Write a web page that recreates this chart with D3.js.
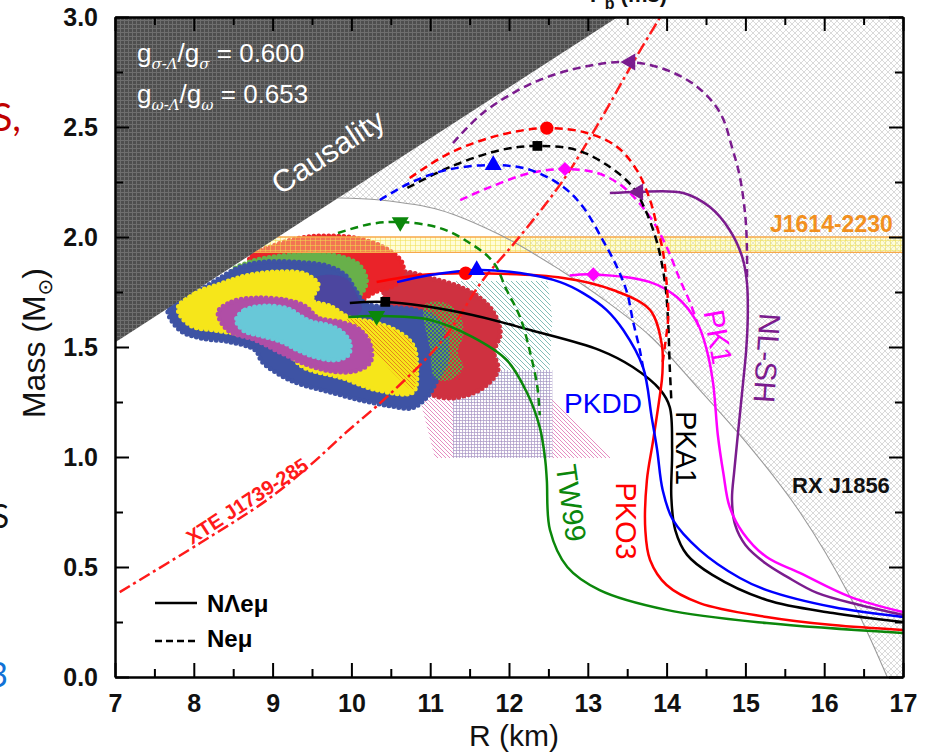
<!DOCTYPE html>
<html>
<head>
<meta charset="utf-8">
<script src="https://cdn.jsdelivr.net/npm/d3@7"></script>
<style>
  body { margin: 0; background: #fff; }
  svg { display: block; font-family: "Liberation Sans", Arial, sans-serif; }
</style>
</head>
<body>
<svg id="chart" width="945" height="754"></svg>
<script>
// ---------------- data: mass–radius relations (R in km, M in solar masses) ----------------
// N Λ e μ (hyperonic) branches, solid lines
const nlshHyp = [[13.28,2.20],[13.64,2.205],[14.21,2.20],[14.55,2.136],[14.80,2.032],[14.96,1.909],[15.02,1.791],[15.03,1.636],[15.01,1.486],[14.97,1.336],[14.91,1.123],[14.86,0.941],[14.83,0.805],[14.87,0.691],[15.00,0.600],[15.25,0.518],[15.53,0.455],[15.91,0.382],[16.45,0.327],[17.00,0.282]];
const pk1Hyp  = [[12.77,1.825],[13.07,1.830],[13.79,1.795],[14.13,1.727],[14.39,1.609],[14.51,1.486],[14.59,1.336],[14.65,1.100],[14.72,0.927],[14.80,0.773],[14.97,0.655],[15.27,0.545],[15.69,0.473],[16.33,0.364],[17.00,0.295]];
const pka1Hyp = [[9.98,1.700],[10.43,1.705],[11.42,1.655],[12.27,1.577],[13.15,1.486],[13.57,1.409],[13.92,1.305],[14.04,1.227],[14.07,1.032],[14.06,0.818],[14.11,0.668],[14.26,0.555],[14.58,0.464],[15.27,0.350],[16.11,0.291],[17.00,0.250]];
const pko3Hyp = [[10.32,1.795],[10.87,1.827],[11.45,1.835],[12.69,1.814],[13.32,1.759],[13.79,1.668],[13.94,1.509],[13.95,1.409],[13.94,1.350],[13.83,1.077],[13.75,0.895],[13.73,0.668],[13.79,0.532],[14.00,0.418],[14.42,0.336],[15.27,0.273],[16.11,0.236],[17.00,0.214]];
const pkddHyp = [[10.58,1.795],[11.00,1.827],[11.59,1.850],[12.14,1.836],[12.65,1.795],[12.94,1.745],[13.24,1.668],[13.45,1.577],[13.70,1.409],[13.81,1.182],[13.88,1.032],[13.95,0.850],[14.08,0.714],[14.42,0.577],[14.93,0.450],[15.27,0.395],[16.11,0.318],[17.00,0.273]];
const tw99Hyp = [[9.96,1.636],[10.32,1.641],[11.00,1.623],[11.54,1.545],[11.97,1.441],[12.23,1.291],[12.39,1.136],[12.46,0.986],[12.48,0.895],[12.52,0.668],[12.74,0.500],[13.15,0.395],[14.00,0.305],[15.27,0.245],[17.00,0.200]];

// N e μ (nucleonic) branches, dashed lines
const nlshNuc = [[11.29,2.427],[11.67,2.564],[12.30,2.700],[12.94,2.773],[13.54,2.795],[14.00,2.759],[14.39,2.682],[14.68,2.564],[14.84,2.395],[14.93,2.273],[15.00,2.091],[15.02,1.941],[15.02,1.805]];
const pk1Nuc  = [[11.38,2.168],[11.76,2.227],[12.27,2.291],[12.71,2.309],[13.12,2.291],[13.45,2.227],[13.79,2.091],[14.00,1.955],[14.17,1.805],[14.30,1.700],[14.42,1.577]];
const pka1Nuc = [[10.71,2.223],[11.25,2.318],[11.89,2.395],[12.36,2.414],[12.86,2.395],[13.28,2.318],[13.57,2.227],[13.73,2.123],[13.88,1.973],[13.98,1.791],[14.02,1.609],[14.04,1.409],[14.06,1.259]];
const pko3Nuc = [[10.74,2.268],[11.25,2.382],[11.89,2.464],[12.48,2.495],[12.99,2.473],[13.37,2.410],[13.62,2.305],[13.79,2.168],[13.88,2.045],[13.95,1.941],[14.00,1.791],[14.02,1.636],[13.98,1.509],[13.95,1.432]];
const pkddNuc = [[10.36,2.168],[10.74,2.245],[11.21,2.305],[11.80,2.327],[12.27,2.305],[12.69,2.227],[12.94,2.136],[13.19,1.986],[13.37,1.864],[13.50,1.745],[13.57,1.623],[13.66,1.486],[13.70,1.409]];
const tw99Nuc = [[9.83,2.018],[10.24,2.059],[10.62,2.068],[11.12,2.041],[11.50,1.973],[11.80,1.886],[11.97,1.759],[12.14,1.636],[12.27,1.473],[12.36,1.318],[12.39,1.190]];

// model names, colours, maximum-mass points and marker symbols
const modelNames   = ["NL-SH", "PK1", "PKA1", "PKO3", "PKDD", "TW99"];
const modelColors  = ["#7b1c8e", "#ff00ff", "#000000", "#ff0000", "#0000ff", "#0b870b"];
const hypMax = [[13.64,2.205],[13.07,1.830],[10.43,1.705],[11.45,1.835],[11.59,1.850],[10.32,1.641]];
const nucMax = [[13.54,2.795],[12.71,2.309],[12.36,2.414],[12.48,2.495],[11.80,2.327],[10.62,2.068]];
const markerShapes = ["left", "diamond", "square", "circle", "up", "down"];

// observational constraints
const causalityLine = [[7.0,1.52],[13.38,3.0]];
const rxj1856Edge   = [[9.83,2.177],[10.36,2.168],[11.12,2.123],[11.89,2.009],[12.65,1.850],[13.16,1.727],[13.79,1.550],[14.42,1.305],[15.06,1.045],[15.69,0.750],[16.33,0.364],[16.80,0.000]];
const j1614Band     = [1.93, 2.00];
const xteLine       = [[7.06,0.386],[8.08,0.609],[8.93,0.805],[9.48,0.964],[9.94,1.114],[10.45,1.273],[11.16,1.532],[11.67,1.805],[12.10,1.986],[12.69,2.259],[13.16,2.532],[13.57,2.791],[13.92,3.0]];

// mass-radius probability regions
const blobCrimson = [[10.43,1.795],[10.62,1.841],[11.00,1.814],[11.38,1.773],[11.63,1.723],[11.80,1.659],[11.89,1.564],[11.81,1.477],[11.86,1.395],[11.70,1.323],[11.51,1.286],[11.25,1.268],[11.02,1.286],[10.93,1.350],[10.87,1.532],[10.62,1.623],[10.43,1.714]];
const blobRed     = [[8.71,1.905],[8.97,1.955],[9.35,1.995],[9.69,2.005],[10.11,1.991],[10.45,1.945],[10.64,1.886],[10.65,1.827],[10.55,1.782],[10.30,1.750],[10.11,1.714],[9.86,1.736],[9.35,1.759],[8.84,1.782]];
const blobGreen   = [[8.48,1.841],[8.71,1.886],[9.09,1.914],[9.60,1.923],[9.92,1.905],[10.11,1.868],[10.19,1.795],[10.05,1.723],[9.35,1.736],[8.71,1.759]];
const blobGreenChk= [[10.93,1.691],[11.19,1.700],[11.38,1.645],[11.42,1.555],[11.35,1.477],[11.42,1.405],[11.25,1.350],[11.06,1.359],[11.00,1.486]];
const blobBlue    = [[7.67,1.668],[7.80,1.714],[8.02,1.750],[8.27,1.800],[8.56,1.859],[8.87,1.886],[9.28,1.886],[9.70,1.868],[9.92,1.827],[10.05,1.759],[10.17,1.700],[10.49,1.682],[10.81,1.668],[11.06,1.632],[11.19,1.555],[11.21,1.441],[11.10,1.359],[10.97,1.277],[10.77,1.223],[10.49,1.232],[10.11,1.259],[9.73,1.295],[9.35,1.332],[9.12,1.368],[8.87,1.432],[8.78,1.486],[8.46,1.523],[8.08,1.541],[7.82,1.577]];
const blobOverlap = [[9.54,1.814],[9.92,1.814],[10.08,1.727],[10.13,1.668],[9.98,1.632],[9.73,1.686],[9.50,1.714]];
const blobYellow  = [[7.80,1.677],[8.02,1.745],[8.33,1.786],[8.65,1.823],[9.03,1.841],[9.41,1.832],[9.58,1.782],[9.50,1.714],[9.73,1.686],[9.98,1.632],[10.26,1.614],[10.55,1.577],[10.78,1.509],[10.83,1.395],[10.78,1.295],[10.32,1.305],[9.89,1.359],[9.39,1.409],[9.16,1.486],[8.71,1.550],[8.33,1.573],[7.95,1.600]];
const blobHatched = [[9.94,1.623],[10.26,1.614],[10.55,1.577],[10.78,1.509],[10.83,1.395],[10.78,1.305],[10.62,1.350],[10.24,1.495]];
const blobPurple  = [[8.31,1.659],[8.48,1.705],[8.78,1.723],[9.16,1.714],[9.41,1.686],[9.58,1.632],[9.86,1.614],[10.11,1.577],[10.24,1.509],[10.24,1.432],[10.05,1.391],[9.73,1.391],[9.41,1.423],[9.09,1.477],[8.78,1.532],[8.43,1.577]];
const blobCyan    = [[8.54,1.623],[8.65,1.668],[8.90,1.686],[9.20,1.673],[9.35,1.641],[9.50,1.614],[9.70,1.600],[9.88,1.568],[9.98,1.518],[9.96,1.464],[9.79,1.441],[9.54,1.455],[9.32,1.486],[9.12,1.523],[8.87,1.550],[8.64,1.573]];
const boxTeal     = [[11.29,1.800],[12.49,1.800],[12.55,1.623],[12.49,1.245],[11.29,1.245]];
const boxGrid     = [[11.29,1.395],[12.55,1.395],[12.55,0.995],[11.29,0.995]];
const boxPink     = [[10.85,1.291],[12.52,1.282],[13.31,0.995],[11.06,0.995]];

// axis ticks
const xMajor = [7, 8, 9, 10, 11, 12, 13, 14, 15, 16, 17];
const xMinor = [7.5, 8.5, 9.5, 10.5, 11.5, 12.5, 13.5, 14.5, 15.5, 16.5];
const yMajor = [0, 0.5, 1.0, 1.5, 2.0, 2.5, 3.0];
const yMinor = [0.25, 0.75, 1.25, 1.75, 2.25, 2.75];

// ---------------- drawing ----------------
const svg = d3.select("#chart");
const x = d3.scaleLinear().domain([7, 17]).range([115, 903]);
const y = d3.scaleLinear().domain([0, 3]).range([677, 17]);

const defs = svg.append("defs");
function pattern(id, size, bg, draw) {
  const p = defs.append("pattern").attr("id", id).attr("patternUnits", "userSpaceOnUse")
    .attr("width", size).attr("height", size);
  if (bg) p.append("rect").attr("width", size).attr("height", size).attr("fill", bg);
  draw(p, size);
}
pattern("crossLight", 6, "#ffffff", (p, s) => p.append("path")
  .attr("d", `M0,0L${s},${s}M${s},0L0,${s}`).attr("stroke", "#cdcdcd").attr("stroke-width", 0.75));
pattern("gridDark", 4, "#4e4e4e", (p, s) => p.append("path")
  .attr("d", `M0,0.5H${s}M0.5,0V${s}`).attr("stroke", "#6e6e6e").attr("stroke-width", 1));
pattern("gridBand", 5, "rgba(255,250,150,0.38)", (p, s) => p.append("path")
  .attr("d", `M0,0.5H${s}M0.5,0V${s}`).attr("stroke", "rgba(240,222,80,0.65)").attr("stroke-width", 0.8));
pattern("hatchTeal", 5, null, (p, s) => p.append("path")
  .attr("d", `M0,0L${s},${s}M-1,${s-1}L1,${s+1}M${s-1},-1L${s+1},1`).attr("stroke", "#62aca6").attr("stroke-width", 0.8));
pattern("hatchPink", 4, null, (p, s) => p.append("path")
  .attr("d", `M0,0L${s},${s}M-1,${s-1}L1,${s+1}M${s-1},-1L${s+1},1`).attr("stroke", "#e070b2").attr("stroke-width", 0.8));
pattern("gridPurple", 3, "#ffffff", (p, s) => p.append("path")
  .attr("d", `M0,0.5H${s}M0.5,0V${s}`).attr("stroke", "#9a8abd").attr("stroke-width", 0.7));
pattern("hatchOrange", 4, null, (p, s) => p.append("path")
  .attr("d", `M0,0L${s},${s}M-1,${s-1}L1,${s+1}M${s-1},-1L${s+1},1`).attr("stroke", "#e8861c").attr("stroke-width", 1));
pattern("checkGreen", 4, null, (p) => {
  p.append("rect").attr("x", 0).attr("y", 0).attr("width", 2).attr("height", 2).attr("fill", "#5fa848");
  p.append("rect").attr("x", 2).attr("y", 2).attr("width", 2).attr("height", 2).attr("fill", "#5fa848");
});

defs.append("clipPath").attr("id", "plotClip").append("rect")
  .attr("x", x(7)).attr("y", y(3)).attr("width", x(17) - x(7)).attr("height", y(0) - y(3));

const plot = svg.append("g").attr("clip-path", "url(#plotClip)");

const smooth = d3.line().x(d => x(d[0])).y(d => y(d[1])).curve(d3.curveCatmullRom.alpha(0.5));
const straight = d3.line().x(d => x(d[0])).y(d => y(d[1]));
const closedSmooth = d3.line().x(d => x(d[0])).y(d => y(d[1])).curve(d3.curveCatmullRomClosed.alpha(0.5));

// RX J1856 excluded region: above the boundary curve, right of the causality limit
const edgePath = smooth(rxj1856Edge);
plot.append("path")
  .attr("d", edgePath + `L${x(17)},${y(0)}L${x(17)},${y(3)}L${x(causalityLine[1][0])},${y(3)}Z`)
  .attr("fill", "url(#crossLight)");

// hatched boxes
plot.append("path").attr("d", straight(boxTeal) + "Z").attr("fill", "url(#hatchTeal)");
plot.append("path").attr("d", straight(boxPink) + "Z").attr("fill", "url(#hatchPink)");
plot.append("path").attr("d", straight(boxGrid) + "Z").attr("fill", "url(#gridPurple)").attr("opacity", 0.85);

// probability regions with scalloped edges
function blob(pts, color, scallop) {
  const p = plot.append("path").attr("d", closedSmooth(pts)).attr("fill", color);
  if (scallop) {
    p.attr("stroke", color).attr("stroke-width", 5)
     .attr("stroke-dasharray", "0 5").attr("stroke-linecap", "round");
  }
}
blob(blobCrimson, "#cf3140", true);
blob(blobRed, "#ea2329", true);
blob(blobGreen, "#68b04a", true);
blob(blobBlue, "#3e53a4", true);
blob(blobGreenChk, "url(#checkGreen)", false);
blob(blobOverlap, "#4c469f", false);
blob(blobYellow, "#f6e61a", true);
blob(blobHatched, "url(#hatchOrange)", false);
blob(blobPurple, "#b04ea6", true);
blob(blobCyan, "#68c8d8", true);

// PSR J1614-2230 mass band
plot.append("rect")
  .attr("x", x(7)).attr("width", x(17) - x(7))
  .attr("y", y(j1614Band[1])).attr("height", y(j1614Band[0]) - y(j1614Band[1]))
  .attr("fill", "url(#gridBand)");
j1614Band.forEach(m => plot.append("line")
  .attr("x1", x(7)).attr("x2", x(17)).attr("y1", y(m)).attr("y2", y(m))
  .attr("stroke", "#f7a84a").attr("stroke-width", 1.4));

// causality limit
plot.append("path")
  .attr("d", straight([[7, 3], causalityLine[1], causalityLine[0]]) + "Z")
  .attr("fill", "url(#gridDark)");

// RX J1856 boundary line
plot.append("path").attr("d", edgePath).attr("fill", "none")
  .attr("stroke", "#9a9a9a").attr("stroke-width", 1.1);

// XTE J1739-285 line
plot.append("path").attr("d", smooth(xteLine)).attr("fill", "none")
  .attr("stroke", "#ff1a1a").attr("stroke-width", 2.5).attr("stroke-dasharray", "12,4,3,4");

// model curves
const hypCurves = [nlshHyp, pk1Hyp, pka1Hyp, pko3Hyp, pkddHyp, tw99Hyp];
const nucCurves = [nlshNuc, pk1Nuc, pka1Nuc, pko3Nuc, pkddNuc, tw99Nuc];
modelNames.forEach((name, i) => {
  plot.append("path").attr("d", smooth(nucCurves[i])).attr("fill", "none")
    .attr("stroke", modelColors[i]).attr("stroke-width", 2.5).attr("stroke-dasharray", "8,5");
  plot.append("path").attr("d", smooth(hypCurves[i])).attr("fill", "none")
    .attr("stroke", modelColors[i]).attr("stroke-width", 2.5);
});

// maximum-mass markers
function marker(shape) {
  if (shape === "circle") return { d: d3.symbol(d3.symbolCircle, 140)(), rot: 0 };
  if (shape === "square") return { d: d3.symbol(d3.symbolSquare, 95)(), rot: 0 };
  if (shape === "diamond") return { d: d3.symbol(d3.symbolSquare, 100)(), rot: 45 };
  const tri = d3.symbol(d3.symbolTriangle, 125)();
  return { d: tri, rot: shape === "up" ? 0 : shape === "down" ? 180 : -90 };
}
modelNames.forEach((name, i) => {
  const m = marker(markerShapes[i]);
  [hypMax[i], nucMax[i]].forEach(p => {
    plot.append("path").attr("d", m.d)
      .attr("transform", `translate(${x(p[0])},${y(p[1])}) rotate(${m.rot})`)
      .attr("fill", modelColors[i]);
  });
});

// ---------------- annotations ----------------
const ann = svg.append("g");
function label(txt, cx, cy, rot, size, color, weight) {
  ann.append("text").text(txt)
    .attr("transform", `translate(${cx},${cy}) rotate(${rot})`)
    .attr("text-anchor", "middle").attr("dominant-baseline", "central")
    .attr("font-size", size).attr("fill", color).attr("font-weight", weight || "normal");
}
label("PKDD", 603, 403, 0, 28, modelColors[4]);
label("PKA1", 686, 448, 90, 29, modelColors[2]);
label("PKO3", 626, 521, 90, 29, modelColors[3]);
label("TW99", 571, 503, 82, 29, modelColors[5]);
label("PK1", 718, 337, 80, 29, modelColors[1]);
label("NL-SH", 767, 358, 94, 30, modelColors[0]);
label("Causality", 328, 152, -33, 31, "#ffffff");
label("XTE J1739-285", 247, 501, -33, 20, "#ff1a1a", "bold");

ann.append("text").text("RX J1856").attr("x", 792).attr("y", 493)
  .attr("font-size", 22).attr("font-weight", "bold").attr("fill", "#111");
ann.append("text").text("J1614-2230").attr("x", 770).attr("y", 232)
  .attr("font-size", 23).attr("font-weight", "bold").attr("fill", "#f29020");

// coupling ratios
function ratio(yb, sub1, sub2, val) {
  const t = ann.append("text").attr("x", 137).attr("y", yb).attr("font-size", 26).attr("fill", "#ffffff");
  t.append("tspan").text("g");
  t.append("tspan").text(sub1).attr("font-size", 15).attr("dy", 7).attr("font-family", "DejaVu Serif, serif").attr("font-style", "italic");
  t.append("tspan").text("/g").attr("dy", -7);
  t.append("tspan").text(sub2).attr("font-size", 15).attr("dy", 7).attr("font-family", "DejaVu Serif, serif").attr("font-style", "italic");
  t.append("tspan").text(" = " + val).attr("dy", -7);
}
ratio(62, "σ-Λ", "σ", "0.600");
ratio(103, "ω-Λ", "ω", "0.653");

// legend
const leg = svg.append("g");
leg.append("line").attr("x1", 155).attr("x2", 197).attr("y1", 603).attr("y2", 603)
  .attr("stroke", "#000").attr("stroke-width", 2.5);
leg.append("line").attr("x1", 155).attr("x2", 197).attr("y1", 641).attr("y2", 641)
  .attr("stroke", "#000").attr("stroke-width", 2.5).attr("stroke-dasharray", "7,4");
leg.append("text").text("NΛeμ").attr("x", 207).attr("y", 612)
  .attr("font-size", 24).attr("font-weight", "bold");
leg.append("text").text("Neμ").attr("x", 207).attr("y", 647)
  .attr("font-size", 24).attr("font-weight", "bold");

// ---------------- axes ----------------
function styleAxis(g, width) {
  g.select(".domain").attr("stroke-width", 2);
  g.selectAll(".tick line").attr("stroke-width", width);
  g.selectAll(".tick text").attr("font-family", "Liberation Sans, Arial, sans-serif")
    .attr("font-size", 25).attr("font-weight", "bold").attr("fill", "#111");
}
const gx = svg.append("g").attr("transform", `translate(0,${y(0)})`)
  .call(d3.axisBottom(x).tickValues(xMajor).tickSize(-14).tickSizeOuter(0).tickPadding(17).tickFormat(d3.format("d")));
styleAxis(gx, 2);
const gxm = svg.append("g").attr("transform", `translate(0,${y(0)})`)
  .call(d3.axisBottom(x).tickValues(xMinor).tickSize(-8).tickSizeOuter(0).tickFormat(""));
styleAxis(gxm, 2);

const gy = svg.append("g").attr("transform", `translate(${x(7)},0)`)
  .call(d3.axisLeft(y).tickValues(yMajor).tickSize(-14).tickSizeOuter(0).tickPadding(17).tickFormat(d3.format(".1f")));
styleAxis(gy, 2);
const gym = svg.append("g").attr("transform", `translate(${x(7)},0)`)
  .call(d3.axisLeft(y).tickValues(yMinor).tickSize(-8).tickSizeOuter(0).tickFormat(""));
styleAxis(gym, 2);

const gt = svg.append("g").attr("transform", `translate(0,${y(3)})`)
  .call(d3.axisTop(x).tickValues(xMajor).tickSize(-14).tickSizeOuter(0).tickFormat(""));
styleAxis(gt, 2);
const gtm = svg.append("g").attr("transform", `translate(0,${y(3)})`)
  .call(d3.axisTop(x).tickValues(xMinor).tickSize(-8).tickSizeOuter(0).tickFormat(""));
styleAxis(gtm, 2);

const gr = svg.append("g").attr("transform", `translate(${x(17)},0)`)
  .call(d3.axisRight(y).tickValues(yMajor).tickSize(-14).tickSizeOuter(0).tickFormat(""));
styleAxis(gr, 2);
const grm = svg.append("g").attr("transform", `translate(${x(17)},0)`)
  .call(d3.axisRight(y).tickValues(yMinor).tickSize(-8).tickSizeOuter(0).tickFormat(""));
styleAxis(grm, 2);

// axis titles
svg.append("text").attr("x", 514).attr("y", 746).attr("text-anchor", "middle")
  .attr("font-size", 30).attr("fill", "#111").text("R (km)");
const yt = svg.append("text").attr("transform", "translate(45,343) rotate(-90)")
  .attr("text-anchor", "middle").attr("font-size", 32).attr("fill", "#111");
yt.append("tspan").text("Mass (M");
yt.append("tspan").text("⊙").attr("font-size", 20).attr("dy", 7).attr("font-family", "DejaVu Sans, sans-serif");
yt.append("tspan").text(")").attr("dy", -7);

// top axis title, running past the upper edge of the figure
const tt = svg.append("text").attr("x", 590).attr("y", 2).attr("font-size", 22)
  .attr("font-weight", "bold").attr("fill", "#111");
tt.append("tspan").text("P");
tt.append("tspan").text("b").attr("font-size", 16).attr("dy", 7);
tt.append("tspan").text(" (ms)").attr("dy", -7);

// slide text running past the left margin
svg.append("text").text("S,").attr("x", 21).attr("y", 131).attr("text-anchor", "end")
  .attr("font-family", "Lato, sans-serif").attr("font-size", 38).attr("fill", "#c00000");
svg.append("text").text("S").attr("x", 9).attr("y", 528).attr("text-anchor", "end")
  .attr("font-family", "Lato, sans-serif").attr("font-size", 32).attr("fill", "#111");
svg.append("text").text("3").attr("x", 8).attr("y", 687).attr("text-anchor", "end")
  .attr("font-family", "Lato, sans-serif").attr("font-size", 34).attr("fill", "#1272d6");
</script>
</body>
</html>
